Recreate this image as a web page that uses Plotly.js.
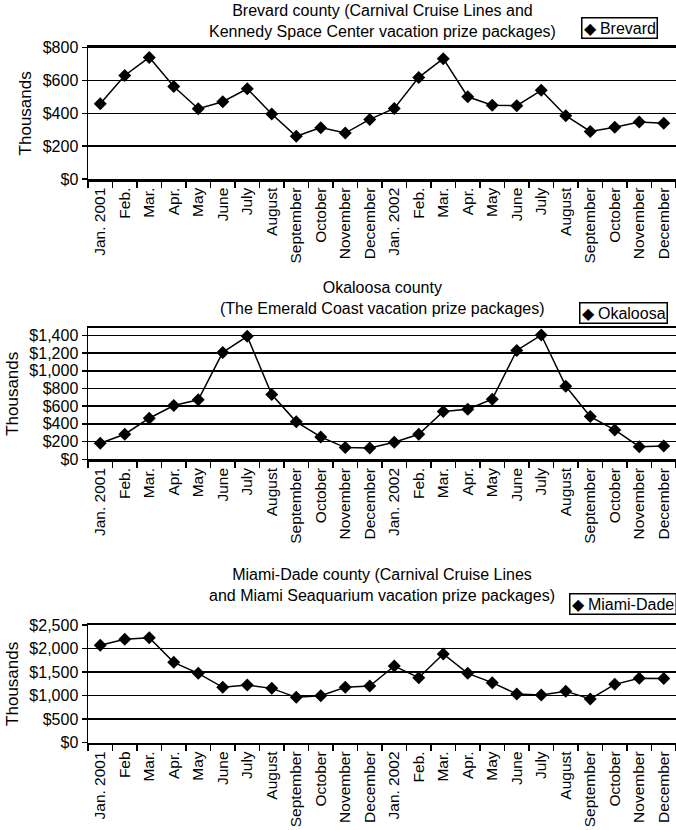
<!DOCTYPE html>
<html>
<head>
<meta charset="utf-8">
<script src="https://cdn.plot.ly/plotly-3.0.1.min.js"></script>
<style>html,body{margin:0;padding:0;background:#fff;}#chart{width:676px;height:830px;}</style>
</head>
<body>
<div id="chart"></div>
<script>
const monthLabels = ["Jan. 2001","Feb.","Mar.","Apr.","May","June","July","August","September","October","November","December",
  "Jan. 2002","Feb.","Mar.","Apr.","May","June","July","August","September","October","November","December"];
const miamiLabels = ["Jan. 2001","Feb","Mar.","Apr.","May","June","July","August","September","October","November","December",
  "Jan. 2002","Feb.","Mar.","Apr.","May","June","July","August","September","October","November","December"];

const brevard = [459,631,741,564,428,471,550,396,260,313,280,363,430,619,733,501,449,447,540,386,290,315,347,339];
const okaloosa = [181,283,464,608,672,1208,1389,732,423,253,132,128,192,283,540,566,679,1230,1404,826,483,332,143,151];
const miami = [2068,2195,2231,1707,1473,1176,1225,1154,963,999,1176,1204,1629,1381,1884,1473,1275,1034,1013,1095,928,1239,1367,1362];

const titles = [
  "Brevard county (Carnival Cruise Lines and<br>Kennedy Space Center vacation prize packages)",
  "Okaloosa county<br>(The Emerald Coast vacation prize packages)",
  "Miami-Dade county (Carnival Cruise Lines<br>and Miami Seaquarium vacation prize packages)"
];
const legendNames = ["Brevard","Okaloosa","Miami-Dade"];
const yTickVals = [[0,200,400,600,800],[0,200,400,600,800,1000,1200,1400],[0,500,1000,1500,2000,2500]];
const yRanges = [[0,800],[0,1480],[0,2500]];

const H = 830;
const FONT = "'Liberation Sans', Arial, Helvetica, sans-serif";
const domains = [[1-179/H, 1-47.7/H],[1-459.3/H, 1-328.3/H],[1-742.7/H, 1-625/H]];
const titleY = [1-21/H, 1-298/H, 1-585/H];
const legendPos = [[619, 28],[623, 313],[623, 604]];

const series = [brevard, okaloosa, miami];
const labelSets = [monthLabels, monthLabels, miamiLabels];

const data = series.map((vals, k) => ({
  x: vals.map((_, i) => i),
  y: vals,
  xaxis: k === 0 ? 'x' : 'x' + (k+1),
  yaxis: k === 0 ? 'y' : 'y' + (k+1),
  type: 'scatter',
  mode: 'lines+markers',
  name: legendNames[k],
  line: {color: '#000', width: 1.5},
  marker: {symbol: 'diamond', size: 10, color: '#000'},
  showlegend: false,
  hoverinfo: 'skip'
}));

const layout = {
  width: 676, height: 830,
  margin: {l: 88, r: 0, t: 0, b: 0},
  paper_bgcolor: '#fff', plot_bgcolor: '#fff',
  font: {family: FONT, color: '#000', size: 16},
  showlegend: false,
  annotations: []
};

for (let k = 0; k < 3; k++) {
  const sfx = k === 0 ? '' : String(k+1);
  const labels = labelSets[k];
  layout['xaxis' + sfx] = {
    domain: [0, 1],
    anchor: 'y' + sfx,
    range: [-0.5, labels.length - 0.5],
    tickmode: 'array',
    tickvals: labels.map((_, i) => i),
    ticktext: labels,
    tickangle: -90,
    ticks: '',
    tickfont: {size: 15.5, family: FONT, color: '#000'},
    showgrid: false, zeroline: false,
    showline: true, linecolor: '#000', linewidth: 2.5,
    mirror: true,
    minor: {tick0: 0.5, dtick: 1, ticks: 'outside', ticklen: 6, tickwidth: 1.5, tickcolor: '#000', showgrid: false},
    automargin: false,
    fixedrange: true
  };
  layout['yaxis' + sfx] = {
    domain: domains[k],
    anchor: 'x' + sfx,
    range: yRanges[k],
    tickmode: 'array',
    tickvals: yTickVals[k],
    ticktext: yTickVals[k].map(v => '$' + v.toLocaleString('en-US')),
    ticks: 'outside', ticklen: 5, tickwidth: 1.5, tickcolor: '#000',
    tickfont: {size: 16, family: FONT, color: '#000'},
    showgrid: true, gridcolor: '#000', gridwidth: 1.5,
    zeroline: false,
    showline: true, linecolor: '#000', linewidth: 1.5,
    title: {text: 'Thousands', font: {size: 17, family: FONT, color: '#000'}, standoff: 6},
    automargin: false,
    fixedrange: true
  };
  layout.annotations.push({
    xref: 'paper', yref: 'paper', x: 0.5, y: titleY[k],
    xanchor: 'center', yanchor: 'middle', showarrow: false,
    text: titles[k], font: {size: 16, family: FONT, color: '#000'}, align: 'center'
  });
  layout.annotations.push({
    xref: 'paper', yref: 'paper',
    x: (legendPos[k][0] - 88) / 588, y: 1 - legendPos[k][1] / H,
    xanchor: 'center', yanchor: 'middle', showarrow: false,
    text: '◆ ' + legendNames[k], font: {size: 16, family: FONT, color: '#000'},
    bordercolor: '#000', borderwidth: 1.5, borderpad: 1, bgcolor: '#fff'
  });
}

Plotly.newPlot('chart', data, layout, {displayModeBar: false, staticPlot: true});
</script>
</body>
</html>
